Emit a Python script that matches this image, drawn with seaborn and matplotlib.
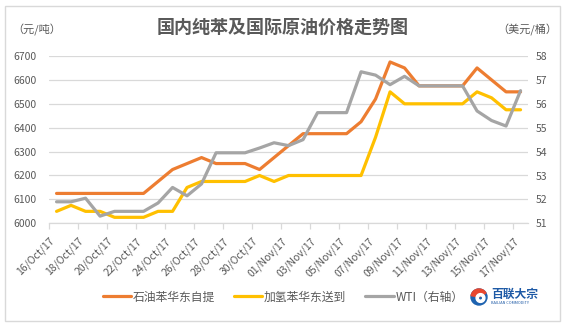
import matplotlib
matplotlib.use("Agg")
import matplotlib.pyplot as plt
import pandas as pd
import seaborn as sns
from matplotlib.lines import Line2D
from matplotlib.patches import Rectangle, Wedge, Circle

# Daily observations, 16 Oct 2017 - 17 Nov 2017
dates = pd.date_range("2017-10-16", "2017-11-17", freq="D")

# Petroleum benzene, East China ex-works (CNY/t)
petro_benzene = [6125, 6125, 6125, 6125, 6125, 6125, 6125, 6175, 6225, 6250,
                 6275, 6250, 6250, 6250, 6225, 6275, 6325, 6375, 6375, 6375,
                 6375, 6425, 6520, 6675, 6650, 6575, 6575, 6575, 6575, 6650,
                 6600, 6550, 6550]
# Hydrogenated benzene, East China delivered (CNY/t)
hydro_benzene = [6050, 6075, 6050, 6050, 6025, 6025, 6025, 6050, 6050, 6150,
                 6175, 6175, 6175, 6175, 6200, 6175, 6200, 6200, 6200, 6200,
                 6200, 6200, 6360, 6550, 6500, 6500, 6500, 6500, 6500, 6550,
                 6525, 6475, 6475]
# WTI crude (USD/bbl, right axis)
wti = [51.90, 51.90, 52.05, 51.30, 51.50, 51.50, 51.50, 51.85, 52.50, 52.15,
       52.65, 53.95, 53.95, 53.95, 54.15, 54.37, 54.25, 54.50, 55.63, 55.63,
       55.63, 57.34, 57.20, 56.80, 57.15, 56.75, 56.75, 56.75, 56.75, 55.70,
       55.30, 55.07, 56.55]

series_names = ["石油苯华东自提", "加氢苯华东送到", "WTI（右轴）"]
colors = ["#ED7D31", "#FFC000", "#A5A5A5"]
title = "国内纯苯及国际原油价格走势图"
left_unit = "（元/吨）"
right_unit = "（美元/桶）"
left_ticks = [6000, 6100, 6200, 6300, 6400, 6500, 6600, 6700]
right_ticks = [51, 52, 53, 54, 55, 56, 57, 58]

sns.set_theme(style="white")
plt.rcParams["font.family"] = ["Noto Sans CJK SC", "DejaVu Sans"]
text_color = "#595959"
grid_color = "#D9D9D9"

W, H = 565, 323
fig = plt.figure(figsize=(W / 100, H / 100), dpi=100)
fig.patch.set_facecolor("white")

x0, x1, ytop, ybot = 49.3, 527.8, 56.0, 223.3
ax = fig.add_axes([x0 / W, 1 - ybot / H, (x1 - x0) / W, (ybot - ytop) / H])

df = pd.DataFrame({"date": list(dates) * 2,
                   "price": petro_benzene + hydro_benzene,
                   "series": [series_names[0]] * len(dates) + [series_names[1]] * len(dates)})
sns.lineplot(data=df, x="date", y="price", hue="series", palette=colors[:2],
             linewidth=2.3, ax=ax, legend=False)

ax2 = ax.twinx()
sns.lineplot(x=dates, y=wti, color=colors[2], linewidth=2.3, ax=ax2)

half = pd.Timedelta(hours=12)
ax.set_xlim(dates[0] - half, dates[-1] + half)
ax.set_ylim(left_ticks[0], left_ticks[-1])
ax2.set_ylim(right_ticks[0], right_ticks[-1])
ax.set_yticks(left_ticks)
ax2.set_yticks(right_ticks)

tick_dates = dates[::2]
ax.set_xticks([d - half for d in tick_dates])
ax.set_xticklabels([d.strftime("%d/%b/%y") for d in tick_dates], rotation=45,
                   ha="right", va="top", rotation_mode="anchor")

for a in (ax, ax2):
    a.set_xlabel("")
    a.set_ylabel("")
    for s in a.spines.values():
        s.set_visible(False)
ax.spines["bottom"].set_visible(True)
ax.spines["bottom"].set_color(grid_color)
ax.spines["bottom"].set_linewidth(0.9)

ax.grid(axis="y", color=grid_color, linewidth=0.9)
ax.grid(axis="x", visible=False)
ax2.grid(False)
ax.set_axisbelow(True)

ax.tick_params(axis="x", bottom=True, direction="out", length=4, width=0.9,
               color=grid_color, labelsize=7.5, labelcolor=text_color, pad=5)
ax.tick_params(axis="y", left=False, length=0, labelsize=7.5,
               labelcolor=text_color, pad=9)
ax2.tick_params(axis="y", right=False, length=0, labelsize=7.5,
                labelcolor=text_color, pad=6)

# Titles and unit labels
fig.text(283 / W, 1 - 27 / H, title, ha="center", va="center", fontsize=13,
         fontweight="bold", color=text_color)
fig.text(37 / W, 1 - 30 / H, left_unit, ha="center", va="center", fontsize=8,
         color=text_color)
fig.text(527 / W, 1 - 30 / H, right_unit, ha="center", va="center", fontsize=8,
         color=text_color)

# Legend
handles = [Line2D([], [], color=c, linewidth=2.3) for c in colors]
fig.legend(handles, series_names, loc="center", ncol=3,
           bbox_to_anchor=(283 / W, 1 - 297 / H), frameon=False,
           fontsize=8.5, labelcolor=text_color, handlelength=2.4,
           handletextpad=0.15, columnspacing=1.6)

# Company mark
cx, cy, r = 479, 297, 8
logo_ax = fig.add_axes([0, 0, 1, 1], facecolor="none")
logo_ax.set_xlim(0, W)
logo_ax.set_ylim(H, 0)
logo_ax.set_aspect("equal")
logo_ax.axis("off")
logo_ax.add_patch(Circle((cx, cy), r, color="#1E63B0"))
logo_ax.add_patch(Wedge((cx, cy), r, 190, 330, color="#E8472F"))
logo_ax.add_patch(Wedge((cx + 1.5, cy + 1), r * 0.55, 0, 360, width=2.2, color="white"))
logo_ax.text(491, 294.5, "百联大宗", ha="left", va="center", fontsize=8.5,
             fontweight="bold", color="#1E5AA6")
logo_ax.text(491, 303.5, "BAILIAN COMMODITY", ha="left", va="center",
             fontsize=2.8, color="#1E5AA6")

# Outer frame
fig.add_artist(Rectangle((5 / W, 1 - 321 / H), 555 / W, 315 / H,
                         transform=fig.transFigure, fill=False,
                         edgecolor=grid_color, linewidth=1))

fig.savefig("out.png", dpi=100, facecolor="white")
